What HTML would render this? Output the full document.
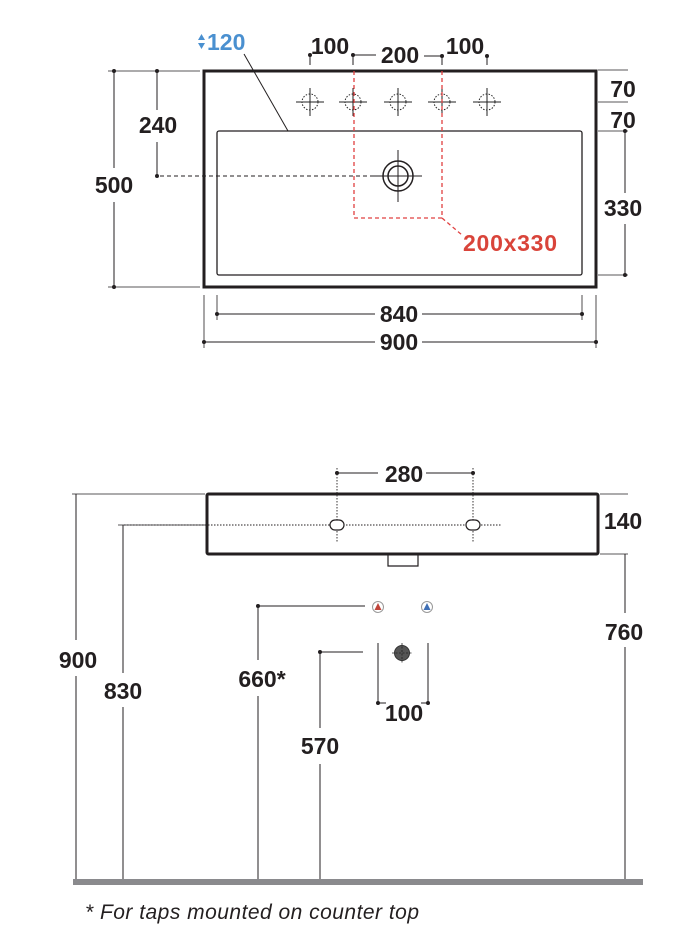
<!DOCTYPE html>
<html><head><style>body{margin:0;background:#fff}svg{display:block}text{font-family:"Liberation Sans",sans-serif;font-weight:bold;font-size:23px;fill:#231f20}</style></head><body>
<svg width="684" height="949" viewBox="0 0 684 949" xmlns="http://www.w3.org/2000/svg">
<defs><g id="tap"><line x1="-14" y1="0" x2="14" y2="0" stroke="#222" stroke-width="1"/><line x1="0" y1="-14" x2="0" y2="14" stroke="#222" stroke-width="1"/><circle r="8" fill="none" stroke="#222" stroke-width="1" stroke-dasharray="1.5,1.5"/></g></defs>
<g stroke="#231f20" fill="none">
<rect x="204" y="71" width="392" height="216" stroke-width="3"/>
<rect x="217" y="131" width="365" height="144" rx="2" stroke-width="1.3"/>
<line x1="160" y1="176" x2="380" y2="176" stroke-width="1" stroke-dasharray="4,3"/>
<circle cx="398" cy="176" r="15" stroke-width="1.5"/><circle cx="398" cy="176" r="10" stroke-width="1.5"/>
<line x1="374" y1="176" x2="422" y2="176"/><line x1="398" y1="150" x2="398" y2="202"/>
<line x1="244" y1="54" x2="288" y2="131"/>
<line x1="108" y1="71" x2="200" y2="71" stroke-width="0.8"/><line x1="108" y1="287" x2="200" y2="287" stroke-width="0.8"/>
<line x1="114" y1="71" x2="114" y2="168"/><line x1="114" y1="202" x2="114" y2="287"/>
<line x1="157" y1="71" x2="157" y2="110"/><line x1="157" y1="142" x2="157" y2="176"/>
<line x1="598" y1="70" x2="628" y2="70" stroke-width="0.8"/><line x1="598" y1="102" x2="628" y2="102" stroke-width="0.8"/><line x1="598" y1="131" x2="628" y2="131" stroke-width="0.8"/><line x1="598" y1="275" x2="628" y2="275" stroke-width="0.8"/>
<line x1="625" y1="131" x2="625" y2="193"/><line x1="625" y1="224" x2="625" y2="275"/>
<line x1="217" y1="295" x2="217" y2="320" stroke-width="0.8"/><line x1="582" y1="295" x2="582" y2="320" stroke-width="0.8"/>
<line x1="217" y1="314" x2="375" y2="314"/><line x1="422" y1="314" x2="582" y2="314"/>
<line x1="204" y1="295" x2="204" y2="348" stroke-width="0.8"/><line x1="596" y1="295" x2="596" y2="348" stroke-width="0.8"/>
<line x1="204" y1="342" x2="375" y2="342"/><line x1="422" y1="342" x2="596" y2="342"/>
<line x1="310" y1="55" x2="310" y2="65"/><line x1="487" y1="56" x2="487" y2="65"/>
<line x1="353" y1="55" x2="353" y2="65"/><line x1="442" y1="56" x2="442" y2="65"/>
<line x1="353" y1="55" x2="376" y2="55"/><line x1="424" y1="56" x2="442" y2="56"/>
</g>
<g fill="#231f20"><circle cx="114" cy="71" r="2"/><circle cx="114" cy="287" r="2"/><circle cx="157" cy="71" r="2"/><circle cx="157" cy="176" r="2"/><circle cx="625" cy="131" r="2"/><circle cx="625" cy="275" r="2"/><circle cx="217" cy="314" r="2"/><circle cx="582" cy="314" r="2"/><circle cx="204" cy="342" r="2"/><circle cx="596" cy="342" r="2"/><circle cx="310" cy="55" r="2"/><circle cx="353" cy="55" r="2"/><circle cx="442" cy="56" r="2"/><circle cx="487" cy="56" r="2"/></g>
<use href="#tap" x="310" y="102"/><use href="#tap" x="353" y="102"/><use href="#tap" x="398" y="102"/><use href="#tap" x="442" y="102"/><use href="#tap" x="487" y="102"/>
<path d="M354 71 V218 H442 V71 M442 218 L462 235" fill="none" stroke="#e04040" stroke-width="1.3" stroke-dasharray="4,3"/>
<text x="114" y="193" text-anchor="middle">500</text>
<text x="158" y="133" text-anchor="middle">240</text>
<text x="623" y="97" text-anchor="middle">70</text>
<text x="623" y="128" text-anchor="middle">70</text>
<text x="623" y="216" text-anchor="middle">330</text>
<text x="399" y="322" text-anchor="middle">840</text>
<text x="399" y="350" text-anchor="middle">900</text>
<text x="330" y="54" text-anchor="middle">100</text>
<text x="400" y="63" text-anchor="middle">200</text>
<text x="465" y="54" text-anchor="middle">100</text>
<text x="463" y="251" style="fill:#d9443a" textLength="94">200x330</text>
<text x="207" y="50" style="fill:#4a90d0">120</text>
<path d="M198 40 l3.5 -6 l3.5 6z M198 43 l3.5 6 l3.5 -6z" fill="#4a90d0"/>
<g stroke="#231f20" fill="none">
<rect x="207" y="494" width="391" height="60" rx="1.5" stroke-width="3"/>
<path d="M388 555 V566 H418 V555" stroke-width="1.2"/>
<line x1="124" y1="525" x2="502" y2="525" stroke-width="0.9" stroke-dasharray="1.5,1.5"/>
<line x1="337" y1="468" x2="337" y2="542" stroke-width="0.9" stroke-dasharray="1.5,1.5"/>
<line x1="473" y1="468" x2="473" y2="542" stroke-width="0.9" stroke-dasharray="1.5,1.5"/>
<rect x="330" y="520" width="14" height="10" rx="5" stroke-width="1.2" fill="#fff"/>
<rect x="466" y="520" width="14" height="10" rx="5" stroke-width="1.2" fill="#fff"/>
<line x1="337" y1="473" x2="378" y2="473"/><line x1="426" y1="473" x2="473" y2="473"/>
<line x1="600" y1="494" x2="628" y2="494" stroke-width="0.8"/><line x1="600" y1="554" x2="628" y2="554" stroke-width="0.8"/>
<line x1="625" y1="554" x2="625" y2="613"/><line x1="625" y1="647" x2="625" y2="880"/>
<line x1="72" y1="494" x2="205" y2="494" stroke-width="0.8"/>
<line x1="76" y1="494" x2="76" y2="640"/><line x1="76" y1="676" x2="76" y2="880"/>
<line x1="118" y1="525" x2="205" y2="525" stroke-width="0.8"/>
<line x1="123" y1="525" x2="123" y2="673"/><line x1="123" y1="707" x2="123" y2="880"/>
<line x1="258" y1="606" x2="365" y2="606"/>
<line x1="258" y1="606" x2="258" y2="660"/><line x1="258" y1="696" x2="258" y2="880"/>
<line x1="320" y1="652" x2="363" y2="652"/>
<line x1="320" y1="652" x2="320" y2="728"/><line x1="320" y1="764" x2="320" y2="880"/>
<line x1="378" y1="643" x2="378" y2="705"/><line x1="428" y1="643" x2="428" y2="705"/>
<line x1="378" y1="703" x2="386" y2="703"/><line x1="421" y1="703" x2="428" y2="703"/>
</g>
<g fill="#231f20"><circle cx="337" cy="473" r="2"/><circle cx="473" cy="473" r="2"/><circle cx="258" cy="606" r="2"/><circle cx="320" cy="652" r="2"/><circle cx="378" cy="703" r="2"/><circle cx="428" cy="703" r="2"/></g>
<circle cx="378" cy="607" r="5.5" fill="#fff" stroke="#999"/><path d="M374.5 610 L378 603 L381.5 610z" fill="#c0443a"/>
<circle cx="427" cy="607" r="5.5" fill="#fff" stroke="#999"/><path d="M423.5 610 L427 603 L430.5 610z" fill="#3f6fb5"/>
<circle cx="402" cy="653" r="7.5" fill="#555" stroke="#333"/>
<line x1="392" y1="653" x2="412" y2="653" stroke="#222" stroke-width="0.8" stroke-dasharray="2,1.5"/><line x1="402" y1="643" x2="402" y2="663" stroke="#222" stroke-width="0.8" stroke-dasharray="2,1.5"/>
<rect x="73" y="879" width="570" height="6" fill="#8a8a8d"/>
<text x="404" y="482" text-anchor="middle">280</text>
<text x="623" y="529" text-anchor="middle">140</text>
<text x="624" y="640" text-anchor="middle">760</text>
<text x="78" y="668" text-anchor="middle">900</text>
<text x="123" y="699" text-anchor="middle">830</text>
<text x="262" y="687" text-anchor="middle">660*</text>
<text x="320" y="754" text-anchor="middle">570</text>
<text x="404" y="721" text-anchor="middle">100</text>
<text x="85" y="919" style="font-weight:normal;font-style:italic;font-size:21px" textLength="334">* For taps mounted on counter top</text>
</svg>
</body></html>
